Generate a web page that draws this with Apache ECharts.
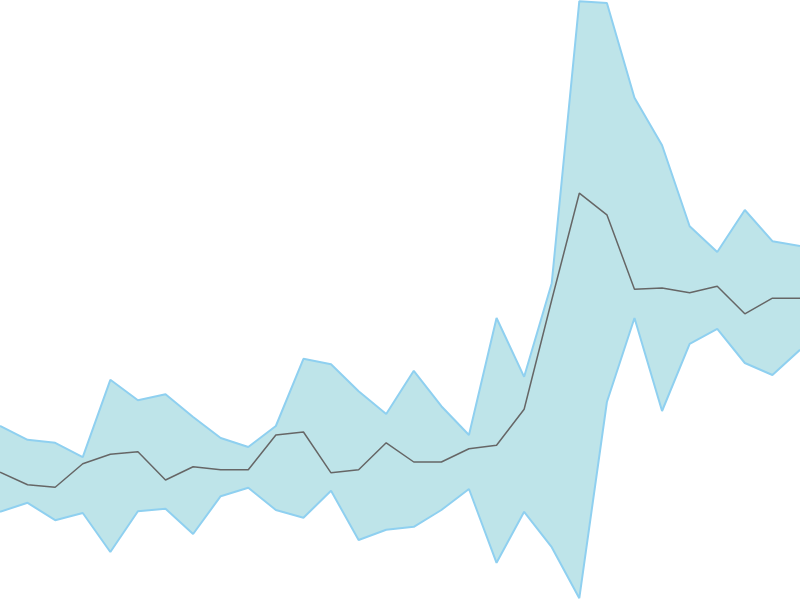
<!DOCTYPE html>
<html>
<head>
<meta charset="utf-8">
<script src="https://cdn.jsdelivr.net/npm/echarts@6/dist/echarts.min.js"></script>
<style>html,body{margin:0;padding:0;background:#fff}#c{width:800px;height:600px}</style>
</head>
<body>
<div id="c"></div>
<script>
const categories = Array.from({length: 30}, (_, i) => String(i + 1));
const lowerValues = [14.7,16.2,13.3,14.5,8.0,14.8,15.2,11.0,17.3,18.7,15.0,13.7,18.2,10.0,11.7,12.2,15.0,18.5,6.2,14.7,8.8,0.3,33.0,47.0,31.5,42.7,45.2,39.5,37.5,41.7];
const upperValues = [29.0,26.7,26.2,23.8,36.7,33.3,34.3,30.5,27.0,25.5,29.0,40.2,39.3,34.8,31.0,38.2,32.3,27.5,47.0,37.2,52.8,99.8,99.5,83.7,75.8,62.3,58.0,65.0,59.8,59.0];
const meanValues = [21.3,19.2,18.8,22.7,24.3,24.7,20.0,22.2,21.7,21.7,27.5,28.0,21.2,21.7,26.2,23.0,23.0,25.2,25.8,31.8,50.0,67.8,64.2,51.8,52.0,51.2,52.3,47.7,50.3,50.3];

const bandDelta = upperValues.map((u, i) => +(u - lowerValues[i]).toFixed(2));
const borderColor = '#8fd0f0';
const fillColor = '#bee4e9';

const chart = echarts.init(document.getElementById('c'));
chart.setOption({
  animation: false,
  grid: {left: 0, right: 0, top: 0, bottom: 0},
  xAxis: {type: 'category', data: categories, boundaryGap: false, show: false},
  yAxis: {type: 'value', min: 0, max: 100, show: false},
  series: [
    {name: 'L', type: 'line', stack: 'band', data: lowerValues, symbol: 'none',
     lineStyle: {opacity: 0}},
    {name: 'U', type: 'line', stack: 'band', data: bandDelta, symbol: 'none',
     areaStyle: {color: fillColor, opacity: 1},
     lineStyle: {color: borderColor, width: 2}},
    {name: 'Lower', type: 'line', data: lowerValues, symbol: 'none',
     lineStyle: {color: borderColor, width: 2}},
    {name: 'Mean', type: 'line', data: meanValues, symbol: 'none',
     lineStyle: {color: '#666666', width: 1.5}}
  ]
});
</script>
</body>
</html>
